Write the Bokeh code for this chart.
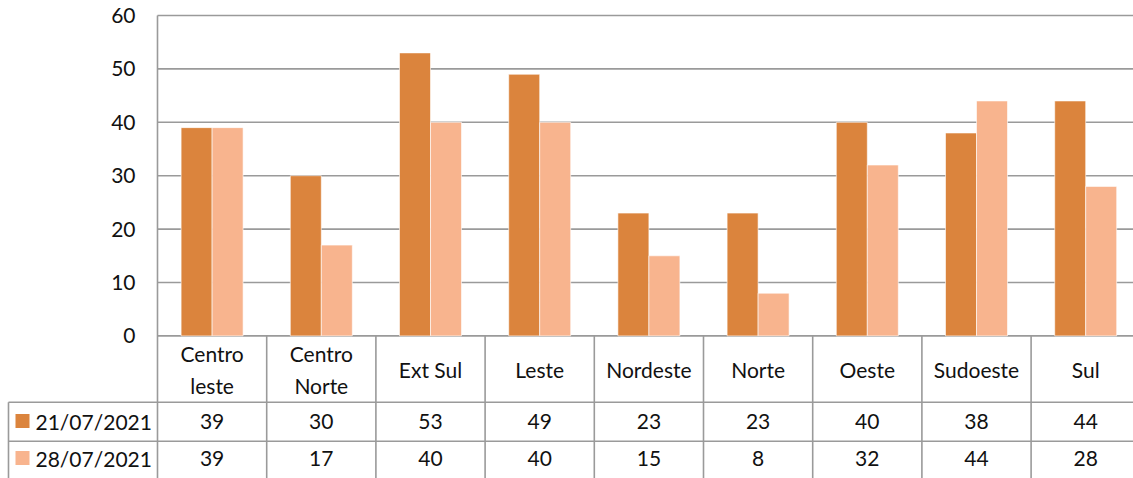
from bokeh.plotting import figure
from bokeh.models import Range1d
from bokeh.core.properties import value
from bokeh.embed import file_html
from bokeh.resources import INLINE

# ---- data ----
categories = ["Centro\nleste", "Centro\nNorte", "Ext Sul", "Leste", "Nordeste",
              "Norte", "Oeste", "Sudoeste", "Sul"]
series_names = ["21/07/2021", "28/07/2021"]
s1 = [39, 30, 53, 49, 23, 23, 40, 38, 44]
s2 = [39, 17, 40, 40, 15, 8, 32, 44, 28]
y_ticks = [0, 10, 20, 30, 40, 50, 60]

# ---- layout constants ----
W, H = 1133, 478
PXC = 109.2          # px per category
PXY = 5.34           # px per value unit
LEFT_PX = 157.0      # plot-area left edge from figure left
ZERO_PX = 335.4      # value 0 from figure top
x_start = -LEFT_PX / PXC
x_end = x_start + W / PXC
y_end = ZERO_PX / PXY
y_start = y_end - H / PXY

def px2x(px):
    return x_start + px / PXC

def px2y(py):
    return y_end - py / PXY

DARK = "#DB843D"
LIGHT = "#F8B48E"
GRID = "#9A9A9A"
TXT = "#111111"
FONT = "Lato"
FS = "21px"

p = figure(width=W, height=H, output_backend="svg", toolbar_location=None,
           x_range=Range1d(x_start, x_end), y_range=Range1d(y_start, y_end),
           min_border=0, outline_line_color=None)
p.axis.visible = False
p.grid.visible = False
p.background_fill_color = "white"
p.border_fill_color = "white"

n = len(categories)
xc = [i + 0.5 for i in range(n)]

# gridlines + baseline
p.segment(x0=[0] * len(y_ticks), x1=[x_end] * len(y_ticks), y0=y_ticks, y1=y_ticks,
          line_color=GRID, line_width=1.6)

# bars
bw = 31 / PXC
p.vbar(x=[x - bw / 2 for x in xc], top=s1, bottom=0, width=bw,
       fill_color=DARK, line_color="white", line_width=0.6)
p.vbar(x=[x + bw / 2 for x in xc], top=s2, bottom=0, width=bw,
       fill_color=LIGHT, line_color="white", line_width=0.6)

# y tick labels
p.text(x=[px2x(135)] * len(y_ticks), y=y_ticks, text=[str(t) for t in y_ticks],
       text_align="right", text_baseline="middle", text_font=value(FONT),
       text_font_size=FS, text_color=TXT)

# table geometry
row1_top = px2y(401.7)
row2_top = px2y(440.7)
# vertical axis line / table column lines
p.segment(x0=[0], x1=[0], y0=[max(y_ticks)], y1=[y_start], line_color=GRID, line_width=1.6)
bx = list(range(1, n + 1))
p.segment(x0=bx, x1=bx, y0=[0] * n, y1=[y_start] * n, line_color=GRID, line_width=1.6)
# left border
p.segment(x0=[px2x(8)], x1=[px2x(8)], y0=[row1_top], y1=[y_start],
          line_color=GRID, line_width=1.6)
# horizontal row lines
p.segment(x0=[px2x(8)] * 2, x1=[x_end] * 2, y0=[row1_top, row2_top], y1=[row1_top, row2_top],
          line_color=GRID, line_width=1.6)

# header labels
p.text(x=xc, y=[px2y(369)] * n, text=categories, text_align="center",
       text_baseline="middle", text_font=value(FONT), text_font_size=FS,
       text_color=TXT, text_line_height=1.3)

# values rows
y_r1 = px2y(420.5)
y_r2 = px2y(457.5)
p.text(x=xc, y=[y_r1] * n, text=[str(v) for v in s1], text_align="center",
       text_baseline="middle", text_font=value(FONT), text_font_size=FS, text_color=TXT)
p.text(x=xc, y=[y_r2] * n, text=[str(v) for v in s2], text_align="center",
       text_baseline="middle", text_font=value(FONT), text_font_size=FS, text_color=TXT)

# legend keys + series names
p.scatter(x=[px2x(22)] * 2, y=[y_r1, y_r2], marker="square", size=14,
          fill_color=[DARK, LIGHT], line_color=None)
p.text(x=[px2x(35)] * 2, y=[y_r1, y_r2], text=series_names, text_align="left",
       text_baseline="middle", text_font=value(FONT), text_font_size=FS, text_color=TXT)

open("out.html", "w").write(file_html(p, INLINE))
